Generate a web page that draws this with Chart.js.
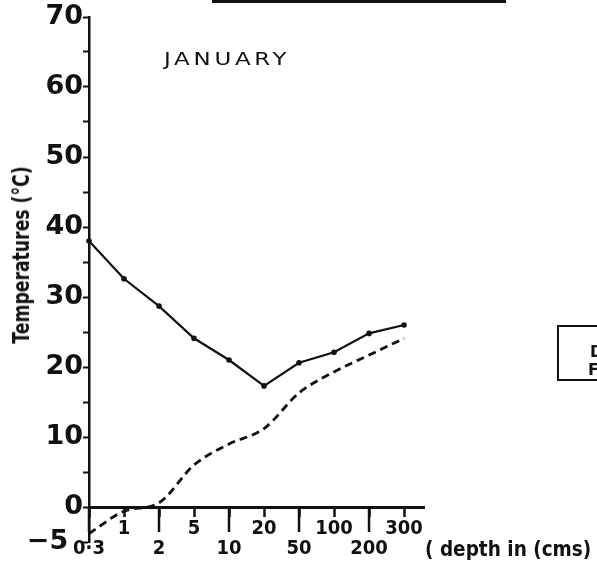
<!DOCTYPE html>
<html>
<head>
<meta charset="utf-8">
<script src="https://cdn.jsdelivr.net/npm/chart.js@4.4.1/dist/chart.umd.min.js"></script>
<style>
  body { margin: 0; background: #fff; }
  #wrap { position: relative; width: 597px; height: 572px; overflow: hidden;
          font-family: 'DejaVu Sans', sans-serif; font-weight: bold; color: #111; }
  #soilChart { position: absolute; left: 0; top: 0; }
  .month { position: absolute; left: 164px; top: 48px; font-size: 18.5px; font-weight: normal;
           letter-spacing: 3px; white-space: nowrap; transform: scaleX(1.24); transform-origin: left top; }
  .y-title { position: absolute; left: 21px; top: 255px; font-size: 23px; white-space: nowrap;
             transform: translate(-50%, -50%) rotate(-90deg) scaleX(0.75); }
  .x-title { position: absolute; left: 425px; top: 536px; font-size: 22px; white-space: nowrap;
             transform: scaleX(0.84); transform-origin: left top; }
  .top-frame { position: absolute; left: 212px; top: -19px; width: 292px; height: 19px;
               border-left: 2.5px solid #111; border-bottom: 3px solid #111; }
  .side-box { position: absolute; left: 557px; top: 325px; width: 80px; height: 52px;
              border: 2.5px solid #111; font-size: 16px; line-height: 18px; }
  .side-box span { display: block; padding-left: 31px; }
  .side-box span:first-child { margin-top: 16px; }
  .side-box span + span { padding-left: 29px; }
</style>
</head>
<body>
<div id="wrap">
  <canvas id="soilChart" width="597" height="572"></canvas>
  <div class="month">JANUARY</div>
  <div class="y-title">Temperatures (°C)</div>
  <div class="x-title">( depth in (cms)</div>
  <div class="top-frame"></div>
  <div class="side-box"><span>D</span><span>FI</span></div>
</div>
<script>
// soil depth (cm) and the January temperature profile
const depthLabels = ['0·3', '1', '2', '5', '10', '20', '50', '100', '200', '300'];
const maxTemps = [38.0, 32.6, 28.7, 24.1, 21.0, 17.3, 20.6, 22.1, 24.8, 26.0];
const minTemps = [-3.8, -0.6, 0.6, 6.0, 9.0, 11.2, 16.3, 19.3, 21.7, 24.1];
const yLabelled = [-5, 0, 10, 20, 30, 40, 50, 60, 70];

const ink = '#111';
const fontFamily = "'DejaVu Sans', sans-serif";
const narrowFamily = "'DejaVu Sans Condensed', 'DejaVu Sans', sans-serif";

// every other depth gets a long tick reaching down to its lower label
const longTicks = {
    id: 'longTicks',
    afterDraw(chart) {
        const xs = chart.scales.x, ys = chart.scales.y;
        const base = ys.getPixelForValue(0);
        const ctx = chart.ctx;
        ctx.save();
        ctx.strokeStyle = ink;
        ctx.lineWidth = 2.5;
        depthLabels.forEach((_, i) => {
            if (i % 2) return;
            const px = xs.getPixelForValue(i);
            ctx.beginPath();
            ctx.moveTo(px, base);
            ctx.lineTo(px, base + 25);
            ctx.stroke();
        });
        ctx.restore();
    }
};

new Chart(document.getElementById('soilChart'), {
    type: 'line',
    data: {
        datasets: [
            {
                label: 'Maximum',
                data: maxTemps.map((t, i) => ({ x: i, y: t })),
                borderColor: ink, borderWidth: 2.2, tension: 0,
                pointRadius: 2.8, pointBackgroundColor: ink, pointBorderWidth: 0,
                clip: false
            },
            {
                label: 'Minimum',
                data: minTemps.map((t, i) => ({ x: i, y: t })),
                borderColor: ink, borderWidth: 2.8, borderDash: [8, 5],
                cubicInterpolationMode: 'monotone',
                pointRadius: 0, clip: false
            }
        ]
    },
    options: {
        responsive: false,
        animation: false,
        layout: { padding: { left: 0, top: 17, right: 173, bottom: 30 } },
        plugins: { legend: { display: false }, tooltip: { enabled: false } },
        scales: {
            x: {
                type: 'linear',
                position: { y: 0 },
                min: 0, max: 9.57,
                border: { color: ink, width: 3 },
                grid: { drawOnChartArea: false, drawTicks: true, tickLength: 8, tickWidth: 2.5, color: ink },
                ticks: {
                    stepSize: 1, includeBounds: false, autoSkip: false, maxRotation: 0,
                    color: ink, padding: 4,
                    font: { family: narrowFamily, size: 20, weight: 'bold', lineHeight: 1 },
                    callback: (v) => {
                        const lbl = depthLabels[v];
                        if (lbl === undefined) return '';
                        return v % 2 ? [lbl] : ['', lbl];
                    }
                }
            },
            y: {
                min: -5, max: 70,
                afterFit: (scale) => { scale.width = 89; },
                border: { color: ink, width: 2.5 },
                grid: { drawOnChartArea: false, drawTicks: true, tickLength: 6, tickWidth: 2, color: ink },
                ticks: {
                    stepSize: 5, autoSkip: false, color: ink, padding: 0,
                    font: { family: fontFamily, size: 27, weight: 'bold' },
                    callback: (v) => {
                        if (!yLabelled.includes(v)) return '';
                        return v < 0 ? '\u2212' + (-v) + ' \u2009' : String(v);
                    }
                }
            }
        }
    },
    plugins: [longTicks]
});
</script>
</body>
</html>
